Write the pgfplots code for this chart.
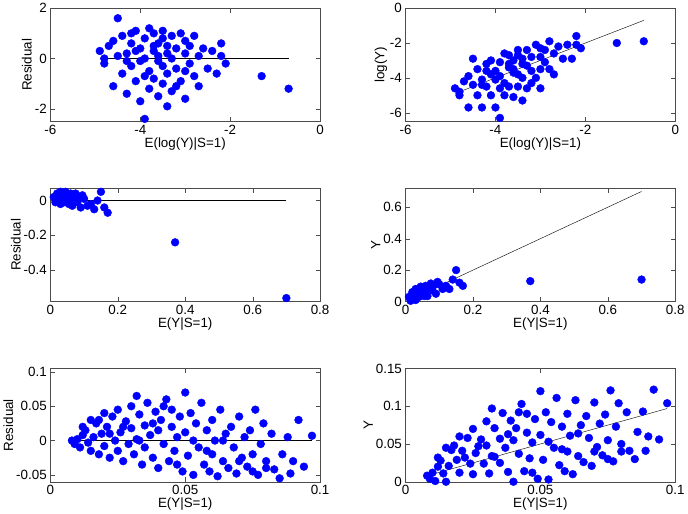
\documentclass[border=0pt]{standalone}
\usepackage{fontspec}
\setmainfont{Liberation Sans}
\usepackage{pgfplots}
\usepgfplotslibrary{groupplots}
\pgfplotsset{compat=1.18}
\usepackage{pgfplotstable}
\pgfplotstableread{
x r
-4.9 0.3
-4.8 -0.2
-4.7 0.5
-4.6 -1.1
-4.5 1.6
-4.5 0.1
-4.4 -0.6
-4.4 0.9
-4.3 0.2
-4.3 -1.4
-4.2 0.6
-4.2 -0.3
-4.1 1.1
-4.1 -0.9
-4.0 0.4
-4.0 -0.1
-4.0 -1.7
-3.9 -2.4
-3.9 0.8
-3.9 0.0
-3.8 1.2
-3.8 -0.5
-3.8 -1.2
-3.7 0.3
-3.7 -0.8
-3.7 1.0
-3.6 0.1
-3.6 -1.5
-3.6 0.6
-3.5 -0.3
-3.5 1.1
-3.5 -1.0
-3.4 0.5
-3.4 -0.6
-3.4 -1.9
-3.3 0.9
-3.3 0.0
-3.3 -1.3
-3.2 0.4
-3.2 -0.4
-3.1 1.0
-3.1 -0.9
-3.0 0.2
-3.0 -1.6
-3.0 0.7
-2.9 -0.2
-2.9 0.5
-2.8 -0.7
-2.8 0.9
-2.7 0.1
-2.7 -1.1
-2.6 0.4
-2.5 -0.4
-2.4 0.3
-2.3 -0.6
-2.2 0.6
-2.2 0.1
-2.1 -0.2
-4.6 0.7
-4.8 0.0
-4.3 -0.1
-3.6 -0.1
-3.9 -0.7
-3.2 -1.1
-3.0 -0.5
-1.3 -0.7
-0.7 -1.2
-4.1 0.3
-3.7 0.5
-3.4 0.2
-4.2 1.0
-3.5 0.8
}\dataA
\pgfplotstableread{
x r
0.01 0.02
0.015 -0.01
0.02 0.04
0.02 0.0
0.025 0.03
0.03 -0.02
0.03 0.05
0.035 0.01
0.04 0.03
0.04 -0.01
0.045 0.05
0.05 0.0
0.05 0.03
0.055 -0.02
0.06 0.04
0.06 0.01
0.065 -0.03
0.07 0.02
0.075 0.04
0.08 -0.01
0.085 0.02
0.09 -0.04
0.1 0.01
0.11 -0.03
0.12 -0.02
0.13 -0.05
0.15 0.05
0.16 -0.04
0.17 -0.07
0.14 0.0
0.095 0.03
0.025 0.01
0.045 0.02
0.065 0.03
0.37 -0.24
0.7 -0.56
}\dataB
\pgfplotstableread{
x r
0.008 0.0
0.009 -0.005
0.01 0.002
0.011 -0.01
0.012 0.008
0.013 0.015
0.014 -0.003
0.015 0.03
0.015 -0.015
0.016 0.005
0.017 0.025
0.018 -0.02
0.019 0.01
0.02 0.04
0.02 -0.008
0.021 0.02
0.022 -0.025
0.023 0.035
0.024 0.0
0.025 -0.015
0.025 0.045
0.026 0.012
0.027 -0.03
0.028 0.028
0.029 -0.005
0.03 0.05
0.03 0.018
0.031 -0.02
0.032 0.065
0.032 0.002
0.033 0.038
0.034 -0.035
0.035 0.022
0.035 -0.01
0.036 0.055
0.037 0.008
0.038 -0.025
0.039 0.042
0.04 0.015
0.04 -0.04
0.041 0.03
0.042 -0.005
0.043 0.06
0.044 -0.03
0.045 0.02
0.045 0.045
0.046 -0.015
0.047 0.005
0.048 0.035
0.049 -0.045
0.05 0.07
0.05 0.012
0.051 -0.022
0.052 0.04
0.053 -0.05
0.054 0.025
0.055 -0.01
0.056 0.055
0.057 -0.035
0.058 0.015
0.059 -0.045
0.06 0.03
0.06 -0.02
0.061 0.0
0.062 -0.052
0.063 0.045
0.064 -0.03
0.065 0.01
0.066 -0.04
0.067 0.02
0.068 -0.01
0.069 -0.048
0.07 0.035
0.071 -0.025
0.072 0.005
0.073 -0.038
0.074 0.015
0.075 -0.02
0.076 0.045
0.077 -0.05
0.078 -0.005
0.079 0.025
0.08 -0.03
0.082 0.01
0.083 -0.042
0.085 -0.055
0.086 -0.02
0.088 0.005
0.089 -0.048
0.09 -0.03
0.092 0.03
0.094 -0.038
0.097 0.007
0.012 0.02
0.018 0.03
0.022 0.01
0.027 0.02
0.033 0.0
0.038 0.025
0.042 0.05
0.047 -0.035
0.053 0.0
0.058 -0.015
0.064 0.0
0.07 -0.03
0.075 -0.045
0.08 -0.04
}\dataC
\begin{document}
\begin{tikzpicture}
\pgfplotsset{
  every axis/.append style={
    scale only axis, width=262pt, height=110pt,
    tick align=inside, tick style={color=black!70},
    axis line style={black!70},
    font=\fontsize{13}{15}\selectfont,
    scaled ticks=false,
    xticklabel style={/pgf/number format/.cd, fixed, precision=2, assume math mode=true},
    yticklabel style={/pgf/number format/.cd, fixed, precision=2, assume math mode=true},
    xlabel style={yshift=4pt}, ylabel style={yshift=-4pt},
  },
  sc/.style={only marks, mark=*, mark size=3.8pt, color=blue, mark options={fill=blue, draw=blue}},
  ln/.style={black, thin, no marks},
}
\begin{groupplot}[group style={group size=2 by 3, horizontal sep=83pt, vertical sep=65pt}]
\nextgroupplot[xmin=-6,xmax=0,ymin=-2.5,ymax=2,xtick={-6,-4,-2,0},ytick={-2,0,2},xlabel={E(log(Y)|S=1)},ylabel={Residual}]
\addplot[sc] table[x=x,y=r]{\dataA};
\addplot[ln] coordinates {(-4.9,0) (-0.7,0)};
\nextgroupplot[xmin=-6,xmax=0,ymin=-6.5,ymax=0,xtick={-6,-4,-2,0},ytick={-6,-4,-2,0},xlabel={E(log(Y)|S=1)},ylabel={log(Y)}]
\addplot[sc] table[x=x,y expr=\thisrow{x}+\thisrow{r}]{\dataA};
\addplot[ln] coordinates {(-4.9,-4.9) (-0.7,-0.7)};
\nextgroupplot[xmin=0,xmax=0.8,ymin=-0.58,ymax=0.07,xtick={0,0.2,0.4,0.6,0.8},ytick={-0.4,-0.2,0},xlabel={E(Y|S=1)},ylabel={Residual}]
\addplot[sc] table[x=x,y=r]{\dataB};
\addplot[ln] coordinates {(0.01,0) (0.7,0)};
\nextgroupplot[xmin=0,xmax=0.8,ymin=0,ymax=0.72,xtick={0,0.2,0.4,0.6,0.8},ytick={0,0.2,0.4,0.6},xlabel={E(Y|S=1)},ylabel={Y}]
\addplot[sc] table[x=x,y expr=\thisrow{x}+\thisrow{r}]{\dataB};
\addplot[ln] coordinates {(0.01,0.01) (0.7,0.7)};
\nextgroupplot[xmin=0,xmax=0.1,ymin=-0.06,ymax=0.105,xtick={0,0.05,0.1},ytick={-0.05,0,0.05,0.1},xlabel={E(Y|S=1)},ylabel={Residual}]
\addplot[sc] table[x=x,y=r]{\dataC};
\addplot[ln] coordinates {(0.008,0) (0.097,0)};
\nextgroupplot[xmin=0,xmax=0.1,ymin=0,ymax=0.15,xtick={0,0.05,0.1},ytick={0,0.05,0.1,0.15},xlabel={E(Y|S=1)},ylabel={Y}]
\addplot[sc] table[x=x,y expr=\thisrow{x}+\thisrow{r}]{\dataC};
\addplot[ln] coordinates {(0.008,0.008) (0.097,0.097)};
\end{groupplot}
\end{tikzpicture}
\end{document}
